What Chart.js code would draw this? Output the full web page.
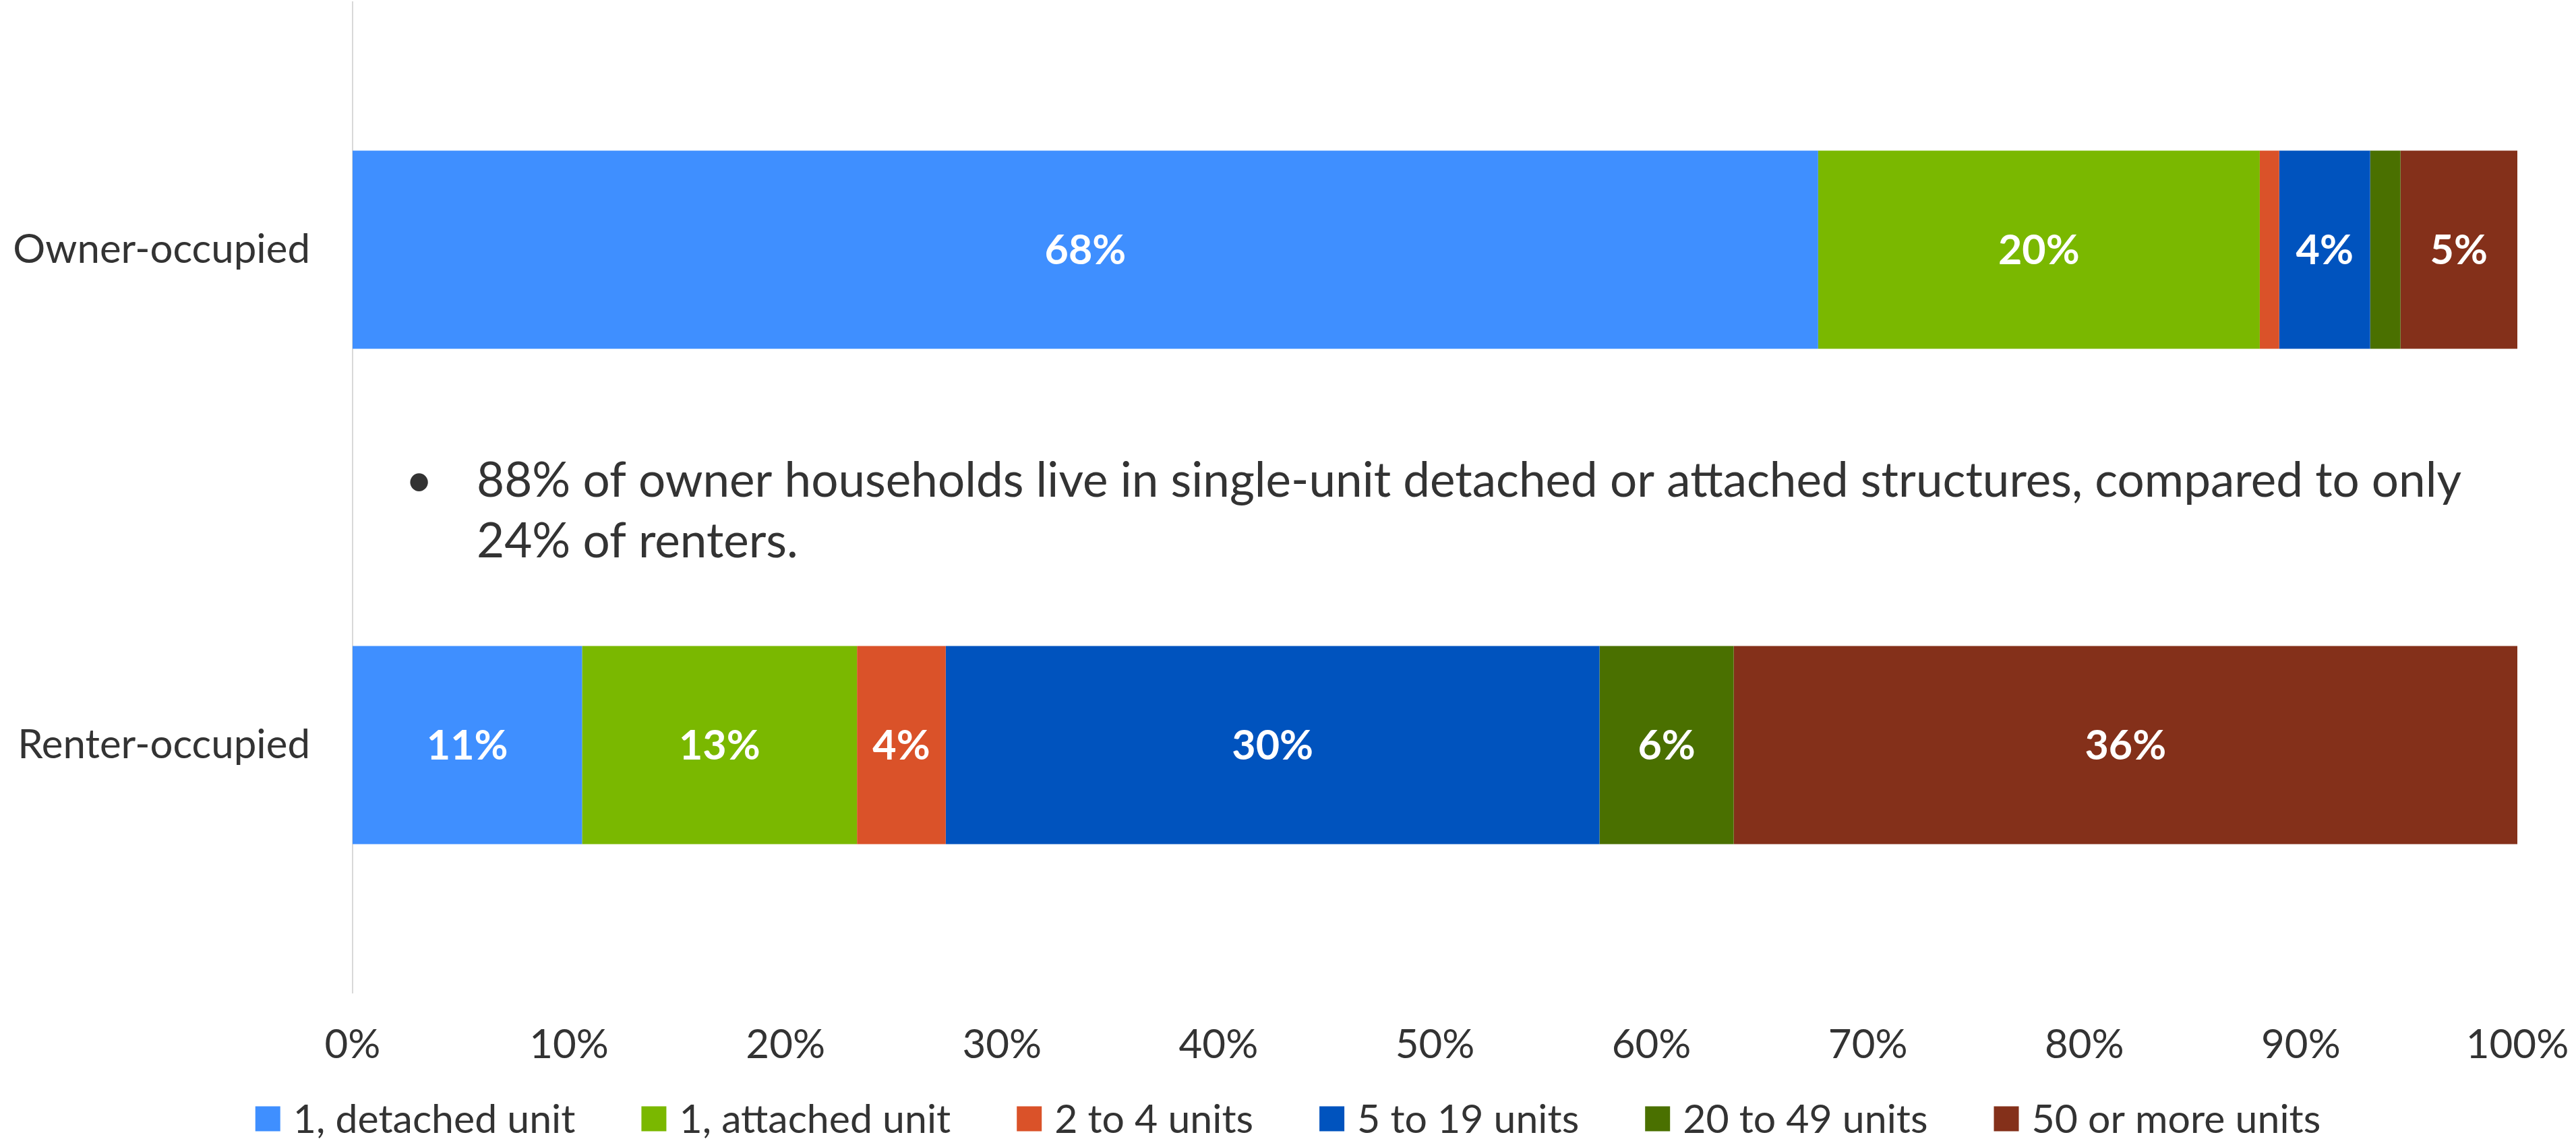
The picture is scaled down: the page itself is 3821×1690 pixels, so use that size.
<!DOCTYPE html>
<html>
<head>
<meta charset="utf-8">
<script src="https://cdn.jsdelivr.net/npm/chart.js@4/dist/chart.umd.min.js"></script>
<style>
  html, body { margin: 0; padding: 0; background: #fff; }
  #wrap { width: 3821px; height: 1690px; position: relative; }
</style>
</head>
<body>
<div id="wrap"><canvas id="chart"></canvas></div>
<script>
'use strict';

const CATEGORIES = ['Owner-occupied', 'Renter-occupied'];
const SERIES_NAMES = ['1, detached unit', '1, attached unit', '2 to 4 units', '5 to 19 units', '20 to 49 units', '50 or more units'];
const SERIES_COLORS = ['#3f8fff', '#7ab800', '#da5229', '#0053be', '#4a7000', '#84301a'];

// share of households (%) per structure type: [owner, renter]
const DETACHED = [67.7, 10.6];
const ATTACHED = [20.4, 12.7];
const TWO_TO_FOUR = [0.9, 4.1];
const FIVE_TO_NINETEEN = [4.2, 30.2];
const TWENTY_TO_FORTYNINE = [1.4, 6.2];
const FIFTY_PLUS = [5.4, 36.2];

const X_TICKS = [0, 10, 20, 30, 40, 50, 60, 70, 80, 90, 100];
const NOTE_LINES = [
  '88% of owner households live in single-unit detached or attached structures, compared to only',
  '24% of renters.',
];

const FONT = 'Lato, "Noto Sans", sans-serif';
const TEXT = '#333333';

const SERIES_VALUES = [DETACHED, ATTACHED, TWO_TO_FOUR, FIVE_TO_NINETEEN, TWENTY_TO_FORTYNINE, FIFTY_PLUS];

const barLabelPlugin = {
  id: 'barLabels',
  afterDatasetsDraw(chart) {
    const { ctx } = chart;
    ctx.save();
    ctx.fillStyle = '#ffffff';
    ctx.font = `bold 61px ${FONT}`;
    ctx.textAlign = 'center';
    ctx.textBaseline = 'middle';
    chart.data.datasets.forEach((dataset, i) => {
      chart.getDatasetMeta(i).data.forEach((bar, j) => {
        const value = dataset.data[j];
        if (value < 2) return;
        const { x, y } = bar.getCenterPoint();
        ctx.fillText(`${Math.round(value)}%`, x, y + 2);
      });
    });
    ctx.restore();
  },
};

const notePlugin = {
  id: 'note',
  afterDraw(chart) {
    const { ctx } = chart;
    const left = chart.chartArea.left;
    ctx.save();
    ctx.fillStyle = TEXT;
    ctx.font = `71px ${FONT}`;
    ctx.textBaseline = 'alphabetic';
    ctx.textAlign = 'left';
    ctx.fillText('\u2022', left + 78, 737);
    NOTE_LINES.forEach((line, i) => ctx.fillText(line, left + 184, 737 + i * 90));
    ctx.restore();
  },
};

const legendPlugin = {
  id: 'boxLegend',
  afterDraw(chart) {
    const { ctx, width } = chart;
    const box = 37, gapText = 19, gapItem = 98, cy = 1660;
    ctx.save();
    ctx.font = `59px ${FONT}`;
    ctx.textBaseline = 'middle';
    ctx.textAlign = 'left';
    const widths = SERIES_NAMES.map(name => ctx.measureText(name).width);
    const total = widths.reduce((s, w) => s + box + gapText + w, 0) + gapItem * (SERIES_NAMES.length - 1);
    let x = (width - total) / 2;
    SERIES_NAMES.forEach((name, i) => {
      ctx.fillStyle = SERIES_COLORS[i];
      ctx.fillRect(x, cy - box / 2, box, box);
      ctx.fillStyle = TEXT;
      ctx.fillText(name, x + box + gapText, cy + 2);
      x += box + gapText + widths[i] + gapItem;
    });
    ctx.restore();
  },
};

new Chart(document.getElementById('chart'), {
  type: 'bar',
  data: {
    labels: CATEGORIES,
    datasets: SERIES_NAMES.map((name, i) => ({
      label: name,
      data: SERIES_VALUES[i],
      backgroundColor: SERIES_COLORS[i],
      borderWidth: 0,
      categoryPercentage: 0.4,
      barPercentage: 1,
    })),
  },
  plugins: [barLabelPlugin, notePlugin, legendPlugin],
  options: {
    indexAxis: 'y',
    responsive: true,
    maintainAspectRatio: false,
    animation: false,
    layout: { padding: { top: 3, right: 87, left: 0, bottom: 0 } },
    plugins: {
      legend: { display: false },
      tooltip: { enabled: false },
    },
    scales: {
      x: {
        stacked: true,
        min: 0,
        max: 100,
        afterFit: scale => {
          scale.height = 217;
          scale.paddingLeft = 0;
          scale.paddingRight = 0;
        },
        afterBuildTicks: scale => { scale.ticks = X_TICKS.map(value => ({ value })); },
        grid: { display: false, drawTicks: false },
        border: { display: false },
        ticks: {
          color: TEXT,
          padding: 42,
          font: { family: FONT, size: 60 },
          callback: value => `${value}%`,
        },
      },
      y: {
        stacked: true,
        afterFit: scale => {
          scale.width = 523;
          scale.paddingTop = 0;
          scale.paddingBottom = 0;
        },
        grid: { display: false, drawTicks: false },
        border: { display: true, color: '#d9d9d9', width: 2 },
        ticks: {
          color: TEXT,
          padding: 63,
          font: { family: FONT, size: 60 },
        },
      },
    },
  },
});
</script>
</body>
</html>
